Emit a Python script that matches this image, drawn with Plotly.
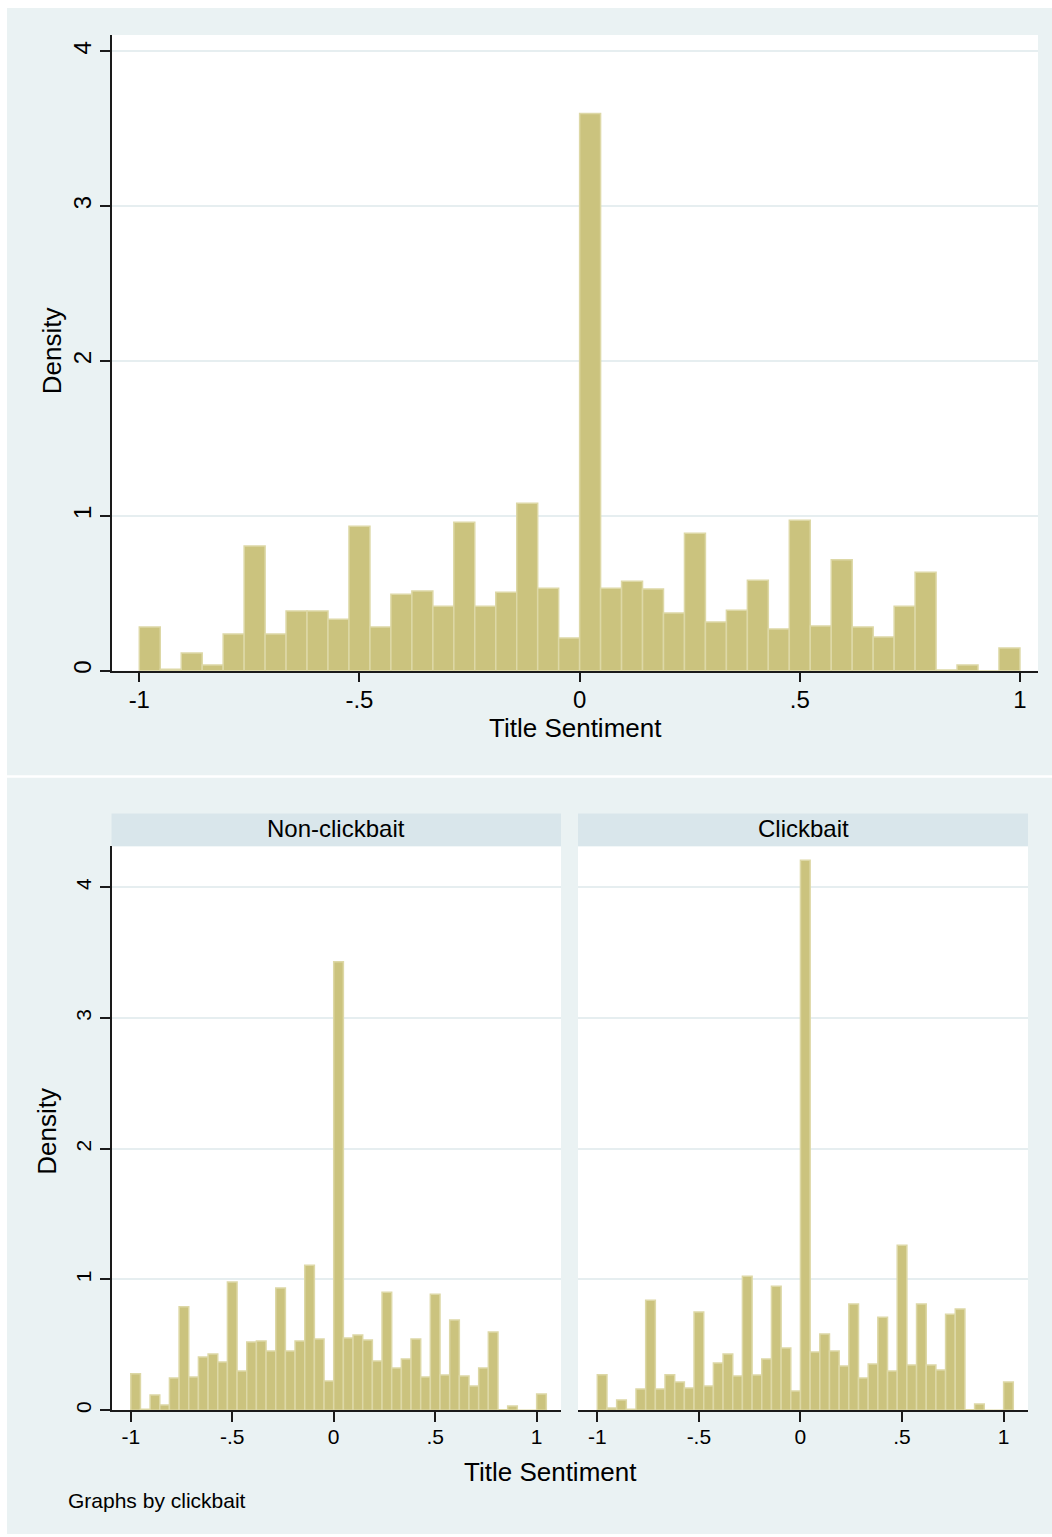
import plotly.graph_objects as go

W, H = 1052, 1537

# Histogram bins: all panels start at -1 with a width of 1/21
BIN_START = -1.0
BIN_WIDTH = 1.0 / 21

# Density of title sentiment, all titles (42 bins)
overall_density = [
    0.282, 0.010, 0.114, 0.037, 0.237, 0.806, 0.237, 0.385, 0.385, 0.333,
    0.933, 0.282, 0.494, 0.514, 0.417, 0.959, 0.417, 0.507, 1.081, 0.533,
    0.211, 3.600, 0.533, 0.578, 0.527, 0.372, 0.888, 0.314, 0.391, 0.585,
    0.269, 0.972, 0.288, 0.716, 0.282, 0.217, 0.417, 0.636, 0.004, 0.037,
    0.000, 0.146,
]

# Density by clickbait group (43 bins)
nonclickbait_density = [
    0.280, 0.008, 0.117, 0.041, 0.247, 0.791, 0.254, 0.407, 0.430, 0.369,
    0.980, 0.300, 0.522, 0.529, 0.453, 0.934, 0.453, 0.529, 1.109, 0.545,
    0.224, 3.430, 0.552, 0.575, 0.537, 0.377, 0.903, 0.323, 0.392, 0.545,
    0.254, 0.888, 0.270, 0.690, 0.262, 0.186, 0.323, 0.598, 0.004, 0.033,
    0.000, 0.000, 0.125,
]
clickbait_density = [
    0.272, 0.018, 0.079, 0.008, 0.163, 0.842, 0.163, 0.272, 0.216, 0.170,
    0.751, 0.186, 0.361, 0.430, 0.262, 1.025, 0.270, 0.392, 0.949, 0.476,
    0.148, 4.206, 0.445, 0.583, 0.453, 0.338, 0.812, 0.247, 0.354, 0.712,
    0.300, 1.262, 0.346, 0.812, 0.346, 0.308, 0.735, 0.774, 0.004, 0.048,
    0.000, 0.000, 0.216,
]

group_labels = ["Non-clickbait", "Clickbait"]
x_tickvals = [-1, -0.5, 0, 0.5, 1]
x_ticktext = ["-1", "-.5", "0", ".5", "1"]
y_tickvals = [0, 1, 2, 3, 4]
y_ticktext = ["0", "1", "2", "3", "4"]

FONT = "Liberation Sans, Arial, Helvetica, sans-serif"
BG = "#EAF2F3"
STRIP = "#D9E6EB"
GRID = "#E6EEF0"
FILL = "#CBC37E"
EDGE = "#DDD8A6"
AXIS = "#1a1a1a"


def px_x(x):
    return x / W


def px_y(y):
    return 1 - y / H


def centers(n):
    return [BIN_START + (i + 0.5) * BIN_WIDTH for i in range(n)]


fig = go.Figure()
for vals, xa, ya in [
    (overall_density, "x", "y"),
    (nonclickbait_density, "x2", "y2"),
    (clickbait_density, "x3", "y3"),
]:
    fig.add_trace(go.Bar(
        x=centers(len(vals)), y=vals, width=BIN_WIDTH,
        xaxis=xa, yaxis=ya,
        marker=dict(color=FILL, line=dict(color=EDGE, width=1.5)),
        hoverinfo="x+y",
    ))


def xaxis(domain, rng, size):
    return dict(
        domain=domain, range=rng, tickvals=x_tickvals, ticktext=x_ticktext,
        ticks="outside", ticklen=10, tickwidth=1.5, tickcolor=AXIS,
        ticklabelstandoff=-3,
        showline=True, linecolor=AXIS, linewidth=1.5,
        showgrid=False, zeroline=False,
        tickfont=dict(family=FONT, size=size, color="#000"),
        fixedrange=True,
    )


def yaxis(domain, rng, size, line=True):
    return dict(
        domain=domain, range=rng, tickvals=y_tickvals, ticktext=y_ticktext,
        tickangle=-90,
        ticks="outside" if line else "", ticklen=10, tickwidth=1.5, tickcolor=AXIS,
        showticklabels=line,
        showline=line, linecolor=AXIS, linewidth=1.5,
        showgrid=True, gridcolor=GRID, gridwidth=2,
        zeroline=False,
        tickfont=dict(family=FONT, size=size, color="#000"),
        fixedrange=True,
    )


top_x = [px_x(112), px_x(1038)]
top_y = [px_y(672), px_y(35)]
left_x = [px_x(111.5), px_x(561)]
right_x = [px_x(578), px_x(1028)]
bot_y = [px_y(1413), px_y(848)]

fig.update_layout(
    width=W, height=H,
    margin=dict(l=0, r=0, t=0, b=0),
    paper_bgcolor="white",
    plot_bgcolor="rgba(0,0,0,0)",
    showlegend=False,
    font=dict(family=FONT, color="#000"),
    xaxis=dict(xaxis(top_x, [-1.062, 1.041], 24), anchor="y"),
    yaxis=dict(yaxis(top_y, [0, 4.107], 24), anchor="x"),
    xaxis2=dict(xaxis(left_x, [-1.095, 1.12], 21), anchor="y2"),
    yaxis2=dict(yaxis(bot_y, [0, 4.313], 21), anchor="x2"),
    xaxis3=dict(xaxis(right_x, [-1.095, 1.12], 21), anchor="y3"),
    yaxis3=dict(yaxis(bot_y, [0, 4.313], 21, line=False), anchor="x3"),
)

shapes = []


def rect(x0, y0, x1, y1, color):
    shapes.append(dict(
        type="rect", xref="paper", yref="paper", layer="below",
        x0=px_x(x0), x1=px_x(x1), y0=px_y(y0), y1=px_y(y1),
        fillcolor=color, line=dict(width=0),
    ))


# graph regions
rect(7, 8, 1052, 776.7, BG)
rect(7, 779.3, 1052, 1537, BG)
# plot regions
rect(112, 35, 1038, 672, "white")
rect(111.5, 848, 561, 1413, "white")
rect(578, 848, 1028, 1413, "white")
# panel strips
rect(111.5, 815, 561, 848, STRIP)
rect(578, 815, 1028, 848, STRIP)
fig.update_layout(shapes=shapes)


def text(x, y, s, size, angle=0, xanchor="center"):
    fig.add_annotation(
        x=px_x(x), y=px_y(y), xref="paper", yref="paper",
        text=s, showarrow=False, textangle=angle,
        xanchor=xanchor, yanchor="middle",
        font=dict(family=FONT, size=size, color="#000"),
    )


text(575, 729, "Title Sentiment", 26)
text(52, 352, "Density", 26, angle=-90)
text(336, 830, group_labels[0], 24)
text(803, 830, group_labels[1], 24)
text(550, 1475, "Title Sentiment", 26)
text(47, 1134, "Density", 26, angle=-90)
text(66, 1503, "Graphs by clickbait", 21, xanchor="left")

fig.write_html("out.html")
